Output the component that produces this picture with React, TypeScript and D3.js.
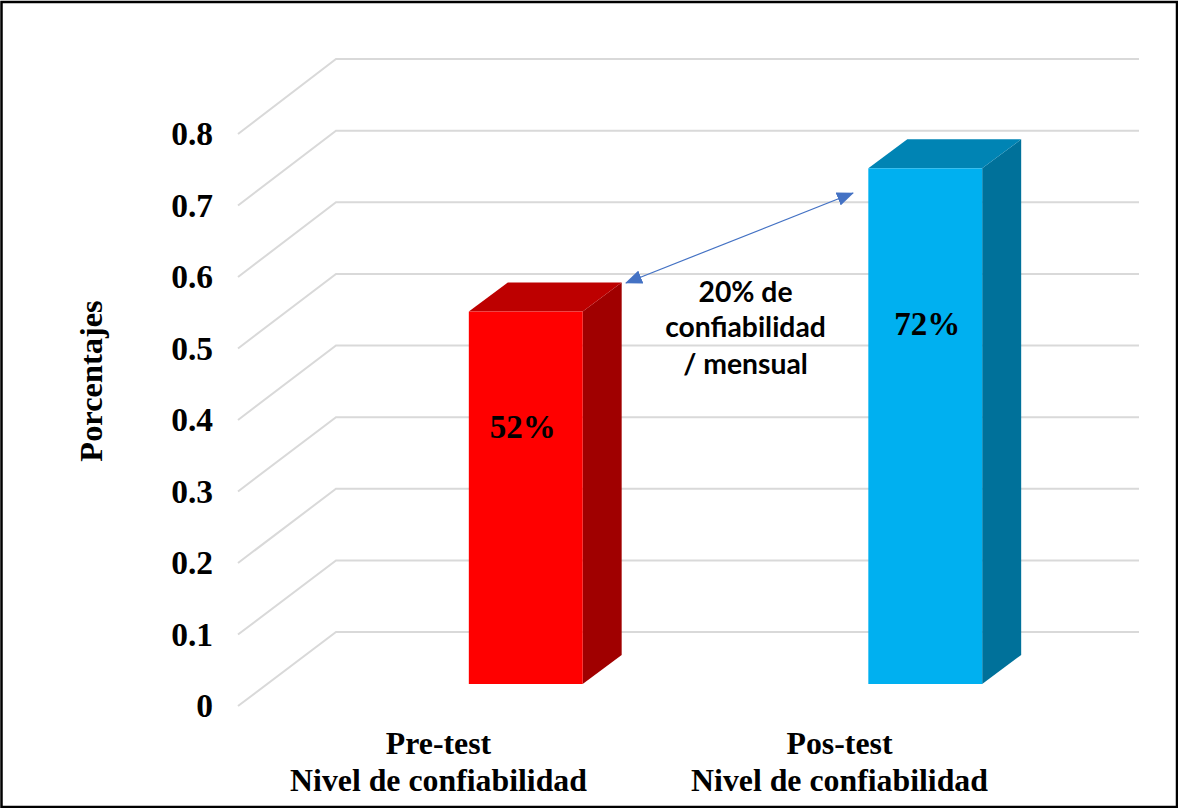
import React from "react";
import * as d3 from "d3";

const categories = ["Pre-test", "Pos-test"];
const axisSubtitle = "Nivel de confiabilidad";
const values = [0.52, 0.72];
const valueLabels = ["52%", "72%"];
const ticks = [0, 0.1, 0.2, 0.3, 0.4, 0.5, 0.6, 0.7, 0.8];
const tickLabels = ["0", "0.1", "0.2", "0.3", "0.4", "0.5", "0.6", "0.7", "0.8"];
const noteLines = ["20% de", "confiabilidad", "/ mensual"];
const frontFaces = ["#ff0000", "#00b0f0"];
const topFaces = ["#bd0000", "#0084b4"];
const sideFaces = ["#a00000", "#00719a"];

const W = 1178;
const H = 808;
const SERIF = "'Liberation Serif', 'Times New Roman', serif";
const SANS = "Lato, 'Open Sans', sans-serif";

// Vertical scales of the floor's front edge and the back wall
const yFront = d3.scaleLinear().domain([0, 0.8]).range([706, 134]);
const yWall = d3.scaleLinear().domain([0, 0.8]).range([632, 59]);
const yBar = d3.scaleLinear().domain([0, 0.8]).range([684, 111]);

// Horizontal layout of the categories
const xLabel = d3.scaleBand<string>().domain(categories).range([238, 1040]);
const xBar = d3
  .scaleBand<string>()
  .domain(categories)
  .range([326, 1125])
  .paddingInner(0.715)
  .paddingOuter(0.3575);

const WALL_LEFT = 336;
const WALL_RIGHT = 1139;
const DEPTH_X = 39;
const DEPTH_Y = 29;

const note = { from: [626, 283], to: [853, 193] };
const labelBaselines = [438, 335];
const labelShift = [-3, 2];
const noteBaselines = [302, 337, 374];

export default function App() {
  const gridPath = d3.line<[number, number]>();
  return (
    <svg
      width={W}
      height={H}
      viewBox={`0 0 ${W} ${H}`}
      style={{ position: "absolute", left: 0, top: 0, display: "block" }}
    >
      <defs>
        <marker
          id="head"
          viewBox="0 0 17 14"
          refX="16"
          refY="7"
          markerWidth="17"
          markerHeight="14"
          markerUnits="userSpaceOnUse"
          orient="auto-start-reverse"
        >
          <path d="M0,0 L17,7 L0,14 Z" fill="#4472c4" />
        </marker>
      </defs>
      <rect width={W} height={H} fill="#fff" />

      {/* Gridlines: floor/side wall diagonal plus the back wall */}
      {ticks.map((t) => (
        <path
          key={t}
          d={
            gridPath([
              [238, yFront(t)],
              [WALL_LEFT, yWall(t)],
              [WALL_RIGHT, yWall(t)],
            ]) as string
          }
          fill="none"
          stroke="#d9d9d9"
          strokeWidth={2}
        />
      ))}

      {/* Value axis */}
      {ticks.map((t, i) => (
        <text
          key={t}
          x={213}
          y={yFront(t) + 11}
          textAnchor="end"
          fontFamily={SERIF}
          fontWeight="bold"
          fontSize={33.5}
          fill="#000"
        >
          {tickLabels[i]}
        </text>
      ))}
      <text
        transform="translate(102,381) rotate(-90)"
        textAnchor="middle"
        fontFamily={SERIF}
        fontWeight="bold"
        fontSize={32.4}
        fill="#000"
      >
        Porcentajes
      </text>

      {/* Extruded bars */}
      {categories.map((c, i) => {
        const x0 = xBar(c) as number;
        const x1 = x0 + xBar.bandwidth();
        const top = yBar(values[i]);
        const base = yBar(0);
        return (
          <g key={c}>
            <polygon
              points={`${x1},${top} ${x1 + DEPTH_X},${top - DEPTH_Y} ${x1 + DEPTH_X},${base - DEPTH_Y} ${x1},${base}`}
              fill={sideFaces[i]}
            />
            <polygon
              points={`${x0},${top} ${x0 + DEPTH_X},${top - DEPTH_Y} ${x1 + DEPTH_X},${top - DEPTH_Y} ${x1},${top}`}
              fill={topFaces[i]}
            />
            <rect x={x0} y={top} width={x1 - x0} height={base - top} fill={frontFaces[i]} />
            <text
              x={(x0 + x1) / 2 + labelShift[i]}
              y={labelBaselines[i]}
              textAnchor="middle"
              fontFamily={SERIF}
              fontWeight="bold"
              fontSize={33}
              fill="#000"
            >
              {valueLabels[i]}
            </text>
          </g>
        );
      })}

      {/* Category labels */}
      {categories.map((c) => {
        const cx = (xLabel(c) as number) + xLabel.bandwidth() / 2;
        return (
          <text
            key={c}
            textAnchor="middle"
            fontFamily={SERIF}
            fontWeight="bold"
            fontSize={31.8}
            fill="#000"
          >
            <tspan x={cx} y={754}>
              {c}
            </tspan>
            <tspan x={cx} y={791}>
              {axisSubtitle}
            </tspan>
          </text>
        );
      })}

      {/* Difference annotation */}
      <line
        x1={note.from[0]}
        y1={note.from[1]}
        x2={note.to[0]}
        y2={note.to[1]}
        stroke="#4472c4"
        strokeWidth={1.2}
        markerStart="url(#head)"
        markerEnd="url(#head)"
      />
      {noteLines.map((l, i) => (
        <text
          key={l}
          x={745.5}
          y={noteBaselines[i]}
          textAnchor="middle"
          fontFamily={SANS}
          fontWeight="bold"
          fontSize={28.3}
          fill="#000"
        >
          {l}
        </text>
      ))}

      {/* Outer frame */}
      <rect x={1.5} y={2} width={W - 2.5} height={H - 3} fill="none" stroke="#000" strokeWidth={2.5} />
    </svg>
  );
}
